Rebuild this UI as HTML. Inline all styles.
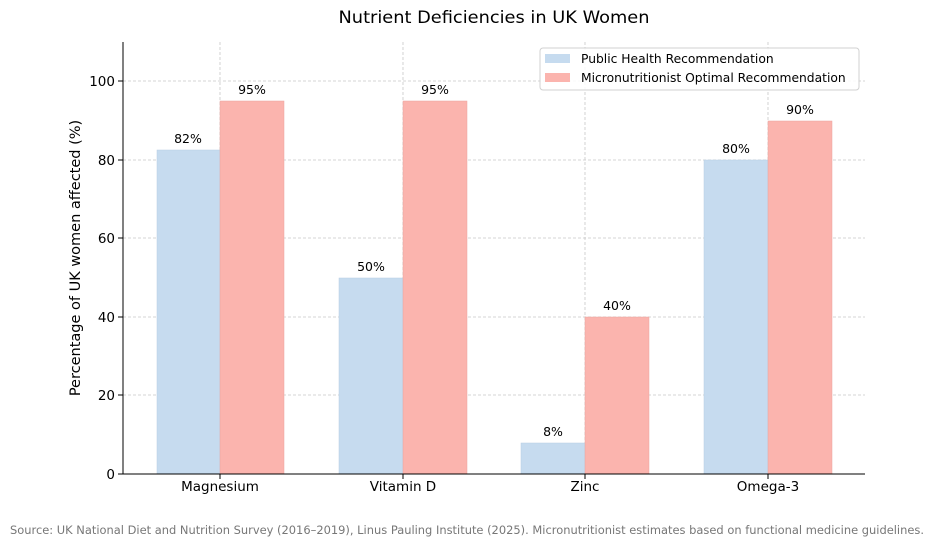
<!DOCTYPE html>
<html><head><style>body{margin:0;background:#fff}svg{display:block}text{font-family:"DejaVu Sans","Liberation Sans",sans-serif}</style></head><body>
<svg width="934" height="545" viewBox="0 0 934 545" xmlns="http://www.w3.org/2000/svg">
<rect width="934" height="545" fill="#fff"/>
<text x="494" y="23" font-size="16.5" text-anchor="middle" fill="#000" textLength="311" lengthAdjust="spacingAndGlyphs">Nutrient Deficiencies in UK Women</text>
<g stroke="#c8c8c8" stroke-width="0.8" stroke-dasharray="3,2">
<line x1="123" x2="865" y1="81" y2="81"/><line x1="123" x2="865" y1="160" y2="160"/><line x1="123" x2="865" y1="238" y2="238"/><line x1="123" x2="865" y1="317" y2="317"/><line x1="123" x2="865" y1="395" y2="395"/>
<line x1="220" x2="220" y1="42" y2="474"/><line x1="403" x2="403" y1="42" y2="474"/><line x1="585" x2="585" y1="42" y2="474"/><line x1="768" x2="768" y1="42" y2="474"/>
</g>
<g fill="#c6dbef" stroke="#b8cde2" stroke-width="0.5">
<rect x="157" y="150" width="63" height="324"/><rect x="339" y="278" width="64" height="196"/><rect x="521" y="443" width="64" height="31"/><rect x="704" y="160" width="64" height="314"/>
</g>
<g fill="#fbb4ae" stroke="#eaa59f" stroke-width="0.5">
<rect x="220" y="101" width="64" height="373"/><rect x="403" y="101" width="64" height="373"/><rect x="585" y="317" width="64" height="157"/><rect x="768" y="121" width="64" height="353"/>
</g>
<g font-size="12.5" text-anchor="middle" fill="#000">
<text x="188" y="143">82%</text><text x="252" y="94">95%</text><text x="371" y="271">50%</text><text x="435" y="94">95%</text><text x="553" y="436">8%</text><text x="617" y="310">40%</text><text x="736" y="153">80%</text><text x="800" y="114">90%</text>
</g>
<line x1="123" x2="123" y1="42" y2="474" stroke="#000" stroke-width="1"/>
<line x1="123" x2="865" y1="474" y2="474" stroke="#000" stroke-width="1"/>
<g stroke="#000"><line x1="118" x2="123" y1="474" y2="474"/><line x1="118" x2="123" y1="395" y2="395"/><line x1="118" x2="123" y1="317" y2="317"/><line x1="118" x2="123" y1="238" y2="238"/><line x1="118" x2="123" y1="160" y2="160"/><line x1="118" x2="123" y1="81" y2="81"/>
<line x1="220" x2="220" y1="474" y2="479"/><line x1="403" x2="403" y1="474" y2="479"/><line x1="585" x2="585" y1="474" y2="479"/><line x1="768" x2="768" y1="474" y2="479"/></g>
<g font-size="13.5" text-anchor="end" fill="#000"><text x="115" y="479">0</text><text x="115" y="400">20</text><text x="115" y="322">40</text><text x="115" y="243">60</text><text x="115" y="165">80</text><text x="115" y="86">100</text></g>
<g font-size="13.5" text-anchor="middle" fill="#000"><text x="220" y="491">Magnesium</text><text x="403" y="491">Vitamin D</text><text x="585" y="491">Zinc</text><text x="768" y="491">Omega-3</text></g>
<text transform="translate(80,258) rotate(-90)" font-size="14.5" text-anchor="middle" fill="#000">Percentage of UK women affected (%)</text>
<rect x="540" y="48" width="319" height="42" rx="3" fill="#fff" fill-opacity="0.85" stroke="#d0d0d0"/>
<rect x="545" y="54" width="25" height="9" fill="#c6dbef"/><rect x="545" y="73" width="25" height="9" fill="#fbb4ae"/>
<g font-size="12.3" fill="#000"><text x="581" y="63">Public Health Recommendation</text><text x="581" y="82">Micronutritionist Optimal Recommendation</text></g>
<text x="10" y="534" font-size="11.2" fill="#777" textLength="914" lengthAdjust="spacingAndGlyphs">Source: UK National Diet and Nutrition Survey (2016–2019), Linus Pauling Institute (2025). Micronutritionist estimates based on functional medicine guidelines.</text>
</svg>
</body></html>
